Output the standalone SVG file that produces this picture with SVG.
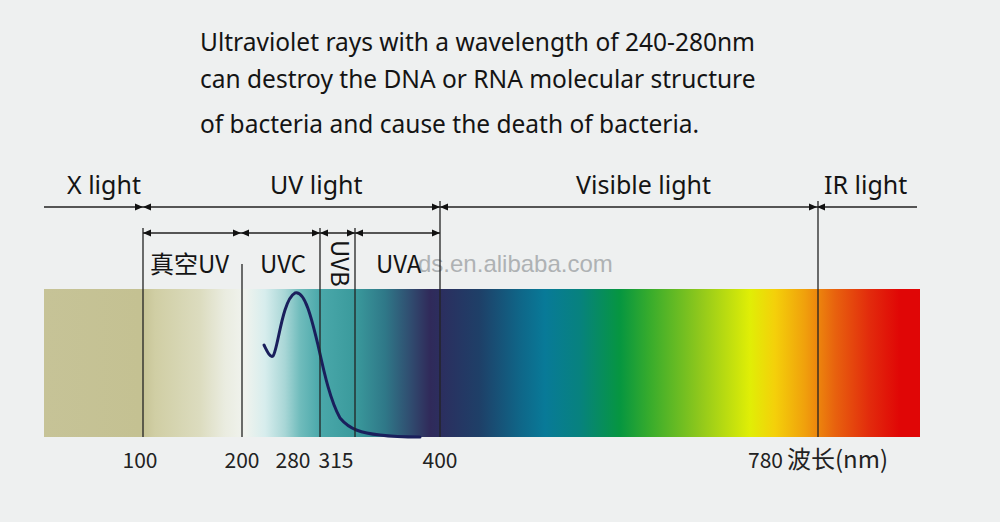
<svg xmlns="http://www.w3.org/2000/svg" width="1000" height="522" viewBox="0 0 1000 522">
<defs>
<linearGradient id="spec" x1="44" y1="0" x2="920" y2="0" gradientUnits="userSpaceOnUse">
<stop offset="0" stop-color="#c6c397"/>
<stop offset="0.1096" stop-color="#c4c192"/>
<stop offset="0.1267" stop-color="#d0cea4"/>
<stop offset="0.1781" stop-color="#dcdcbf"/>
<stop offset="0.2066" stop-color="#eaece0"/>
<stop offset="0.2295" stop-color="#f0f3ee"/>
<stop offset="0.2523" stop-color="#d7eded"/>
<stop offset="0.2751" stop-color="#a8d6d6"/>
<stop offset="0.2922" stop-color="#70bcbc"/>
<stop offset="0.3151" stop-color="#4aa8aa"/>
<stop offset="0.3550" stop-color="#3a9a9c"/>
<stop offset="0.3893" stop-color="#2f7888"/>
<stop offset="0.4178" stop-color="#304d70"/>
<stop offset="0.4406" stop-color="#302a5a"/>
<stop offset="0.4578" stop-color="#2a3060"/>
<stop offset="0.4977" stop-color="#1e4068"/>
<stop offset="0.5434" stop-color="#0f6688"/>
<stop offset="0.5719" stop-color="#087a98"/>
<stop offset="0.6119" stop-color="#07827e"/>
<stop offset="0.6575" stop-color="#069640"/>
<stop offset="0.6918" stop-color="#38ac2c"/>
<stop offset="0.7489" stop-color="#90c81c"/>
<stop offset="0.8059" stop-color="#e0ee06"/>
<stop offset="0.8345" stop-color="#f4d00a"/>
<stop offset="0.8687" stop-color="#f0a00c"/>
<stop offset="0.9030" stop-color="#e8620e"/>
<stop offset="0.9429" stop-color="#e22a0c"/>
<stop offset="0.9772" stop-color="#e00606"/>
<stop offset="1" stop-color="#e00606"/>
</linearGradient>
<marker id="ahEnd" viewBox="0 0 8 8" refX="8" refY="4" markerWidth="8" markerHeight="8" markerUnits="userSpaceOnUse" orient="auto">
<path d="M0,0.5 L8,4 L0,7.5 Z" fill="#111"/>
</marker>
<marker id="ahStart" viewBox="0 0 8 8" refX="0" refY="4" markerWidth="8" markerHeight="8" markerUnits="userSpaceOnUse" orient="auto">
<path d="M8,0.5 L0,4 L8,7.5 Z" fill="#111"/>
</marker>
<style>
.title{font-family:"Noto Sans","Open Sans",sans-serif;font-size:24.5px;fill:#141414}
.band{font-family:"Noto Sans","Open Sans",sans-serif;font-size:25px;fill:#141414}
.sub{font-family:"Noto Sans CJK SC","Noto Sans",sans-serif;font-size:24px;fill:#141414}
.num{font-family:"Noto Sans CJK SC","Noto Sans",sans-serif;font-size:21px;fill:#222}
.unit{font-family:"Noto Sans CJK SC","Noto Sans",sans-serif;font-size:24px;fill:#222}
.wm{font-family:"Liberation Sans",Arial,sans-serif;font-size:24px;fill:#aeb2b4}
.dim{stroke:#222;stroke-width:1.5;fill:none}
.vl{stroke:#222;stroke-width:1.3;fill:none}
</style>
</defs>
<rect x="0" y="0" width="1000" height="522" fill="#eef0f0"/>

<g id="title">
<text class="title" x="200" y="51">Ultraviolet rays with a wavelength of 240-280nm</text>
<text class="title" x="200" y="88">can destroy the DNA or RNA molecular structure</text>
<text class="title" x="200" y="133">of bacteria and cause the death of bacteria.</text>
</g>

<g id="spectrum">
<rect x="44" y="289" width="876" height="148" fill="url(#spec)"/>
</g>

<g id="absorption-curve">
<path d="M264,345 C267,351 270,358 273,356 C278,350 282,300 295,293 C305,290 312,320 318,345 C324,372 330,400 340,418 C350,430 362,433 380,435 C395,437 405,437 420,437" fill="none" stroke="#1a1f5c" stroke-width="3" stroke-linecap="round"/>
</g>

<g id="watermark">
<text class="wm" x="418" y="272">ds.en.alibaba.com</text>
</g>

<g id="connectors">
<line class="dim" x1="44" y1="207" x2="143" y2="207" marker-end="url(#ahEnd)"/>
<line class="dim" x1="143" y1="207" x2="440" y2="207" marker-start="url(#ahStart)" marker-end="url(#ahEnd)"/>
<line class="dim" x1="440" y1="207" x2="817" y2="207" marker-start="url(#ahStart)" marker-end="url(#ahEnd)"/>
<line class="dim" x1="817" y1="207" x2="917" y2="207" marker-start="url(#ahStart)"/>
<line class="dim" x1="143" y1="233" x2="241" y2="233" marker-start="url(#ahStart)" marker-end="url(#ahEnd)"/>
<line class="dim" x1="241" y1="233" x2="320" y2="233" marker-start="url(#ahStart)" marker-end="url(#ahEnd)"/>
<line class="dim" x1="320" y1="233" x2="355" y2="233" marker-start="url(#ahStart)" marker-end="url(#ahEnd)"/>
<line class="dim" x1="355" y1="233" x2="440" y2="233" marker-start="url(#ahStart)" marker-end="url(#ahEnd)"/>
<line class="vl" x1="143" y1="228" x2="143" y2="437"/>
<line class="vl" x1="242" y1="264" x2="242" y2="437"/>
<line class="vl" x1="320" y1="228" x2="320" y2="437"/>
<line class="vl" x1="355" y1="228" x2="355" y2="437"/>
<line class="vl" x1="440" y1="201" x2="440" y2="437"/>
<line class="vl" x1="818" y1="201" x2="818" y2="437"/>
</g>

<g id="x-light"><text class="band" x="67" y="194">X light</text></g>
<g id="uv-light"><text class="band" x="270" y="194">UV light</text></g>
<g id="visible-light"><text class="band" x="576" y="194">Visible light</text></g>
<g id="ir-light"><text class="band" x="824" y="194">IR light</text></g>

<g id="vacuum-uv"><text class="sub" x="150" y="273">真空UV</text></g>
<g id="uvc"><text class="sub" x="260" y="273">UVC</text></g>
<g id="uvb"><text class="sub" transform="translate(331,240) rotate(90)">UVB</text></g>
<g id="uva"><text class="sub" x="376" y="273">UVA</text></g>

<g id="scale">
<text class="num" x="140" y="468" text-anchor="middle">100</text>
<text class="num" x="242" y="468" text-anchor="middle">200</text>
<text class="num" x="293" y="468" text-anchor="middle">280</text>
<text class="num" x="336" y="468" text-anchor="middle">315</text>
<text class="num" x="440" y="468" text-anchor="middle">400</text>
<text class="num" x="748" y="468">780</text>
<text class="unit" x="787" y="468">波长(nm)</text>
</g>
</svg>
